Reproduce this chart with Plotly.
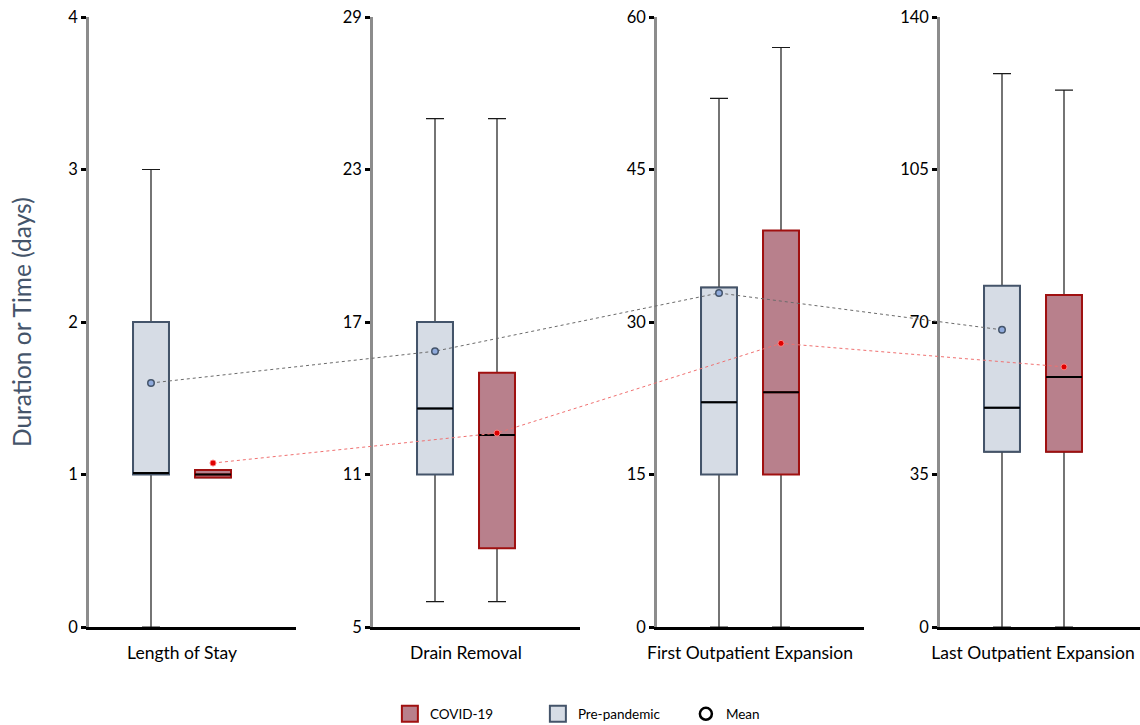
import plotly.graph_objects as go

# ---------------- data ----------------
panels = ["Length of Stay", "Drain Removal", "First Outpatient Expansion", "Last Outpatient Expansion"]
y_ranges = [[0, 4], [5, 29], [0, 60], [0, 140]]
y_ticks = [[0, 1, 2, 3, 4], [5, 11, 17, 23, 29], [0, 15, 30, 45, 60], [0, 35, 70, 105, 140]]

pre_low = [0, 6, 0, 0]
pre_q1 = [1.0, 11.0, 15.0, 40.2]
pre_med = [1.01, 13.6, 22.1, 50.3]
pre_q3 = [2.0, 17.0, 33.4, 78.3]
pre_high = [3.0, 25.0, 52.0, 127.0]
pre_mean = [1.6, 15.85, 32.85, 68.2]

cov_low = [0.98, 6.0, 0, 0]
cov_q1 = [0.98, 8.1, 15.0, 40.2]
cov_med = [1.0, 12.55, 23.1, 57.4]
cov_q3 = [1.03, 15.0, 39.0, 76.2]
cov_high = [1.03, 25.0, 57.0, 123.2]
cov_mean = [1.075, 12.63, 27.9, 59.7]

# ---------------- styling ----------------
W, H = 1140, 725
ML, MR, MT, MB = 89, 0, 17, 98
PW = W - ML - MR
axis_px = [0, 284, 568, 851]
panel_w = 207
unit_px = 62.0
pos_pre, pos_cov = 1, 2
box_w = 0.58

PRE_FILL, PRE_LINE = "#d6dce5", "#44546a"
COV_FILL, COV_LINE = "#b8808c", "#a01010"
FONT = "Lato, Carlito, Calibri, sans-serif"

fig = go.Figure()
layout = dict(
    width=W, height=H,
    margin=dict(l=ML, r=MR, t=MT, b=MB, autoexpand=False),
    plot_bgcolor="rgba(0,0,0,0)", paper_bgcolor="white",
    font=dict(family=FONT, color="black", size=16),
    boxmode="overlay",
    showlegend=True,
)

x_domains = []
x_ranges = []
for i in range(4):
    d0 = axis_px[i] / PW
    d1 = min(1.0, (axis_px[i] + panel_w) / PW)
    x_domains.append((d0, d1))
    xr = [0, (d1 - d0) * PW / unit_px]
    x_ranges.append(xr)
    xa = "xaxis" if i == 0 else f"xaxis{i+1}"
    ya = "yaxis" if i == 0 else f"yaxis{i+1}"
    yid = "y" if i == 0 else f"y{i+1}"
    xid = "x" if i == 0 else f"x{i+1}"
    layout[xa] = dict(domain=[d0, d1], range=xr, anchor=yid, showline=True, linecolor="black",
                      linewidth=3, showgrid=False, zeroline=False, ticks="", automargin=False,
                      tickvals=[(pos_pre + pos_cov) / 2], ticktext=[panels[i]], ticklabelstandoff=8,
                      tickfont=dict(size=17.5, family=FONT, color="black"))
    layout[ya] = dict(domain=[0, 1], range=y_ranges[i], anchor=xid, showline=True,
                      linecolor="#8c8c8c", linewidth=2.5, showgrid=False, zeroline=False,
                      ticks="outside", ticklen=5, tickwidth=3, tickcolor="black", automargin=False,
                      tickvals=y_ticks[i], tickfont=dict(size=16.5, family=FONT, color="black"))
    # twin axis for the inside half of the tick marks
    layout[f"yaxis{i+5}"] = dict(overlaying=yid, range=y_ranges[i], anchor=xid, showline=False,
                                 showgrid=False, zeroline=False, ticks="inside", ticklen=10,
                                 tickwidth=3, tickcolor="black", tickvals=y_ticks[i],
                                 showticklabels=False, automargin=False)

    groups = [
        (pos_pre, pre_low[i], pre_q1[i], pre_med[i], pre_q3[i], pre_high[i], PRE_FILL, PRE_LINE),
        (pos_cov, cov_low[i], cov_q1[i], cov_med[i], cov_q3[i], cov_high[i], COV_FILL, COV_LINE),
    ]
    for (px, lo, q1, md, q3, hi, fill, lc) in groups:
        # whiskers
        fig.add_trace(go.Box(x=[px], q1=[q1], median=[md], q3=[q3], lowerfence=[lo], upperfence=[hi],
                             width=box_w, whiskerwidth=0.5, fillcolor="rgba(0,0,0,0)",
                             line=dict(color="#1a1a1a", width=1.2), xaxis=xid, yaxis=yid,
                             showlegend=False, hoverinfo="skip", boxpoints=False))
        # box body
        fig.add_trace(go.Box(x=[px], q1=[q1], median=[md], q3=[q3], lowerfence=[q1], upperfence=[q3],
                             width=box_w, whiskerwidth=0, fillcolor=fill,
                             line=dict(color=lc, width=2), xaxis=xid, yaxis=yid,
                             showlegend=False, hoverinfo="skip", boxpoints=False))
        # median line
        fig.add_trace(go.Box(x=[px], q1=[md], median=[md], q3=[md], lowerfence=[md], upperfence=[md],
                             width=box_w, whiskerwidth=0, fillcolor="rgba(0,0,0,0)",
                             line=dict(color="black", width=2), xaxis=xid, yaxis=yid,
                             showlegend=False, hoverinfo="skip", boxpoints=False))

# overlay axis for the dotted mean-connecting lines (normalized paper-like coordinates)
layout["xaxis5"] = dict(domain=[0, 1], range=[0, 1], anchor="y9", visible=False)
layout["yaxis9"] = dict(domain=[0, 1], range=[0, 1], anchor="x5", visible=False)


def to_overlay(pos, val, i):
    d0, d1 = x_domains[i]
    xr = x_ranges[i]
    xn = d0 + (pos - xr[0]) / (xr[1] - xr[0]) * (d1 - d0)
    yr = y_ranges[i]
    yn = (val - yr[0]) / (yr[1] - yr[0])
    return xn, yn


pre_pts = [to_overlay(pos_pre, pre_mean[i], i) for i in range(4)]
cov_pts = [to_overlay(pos_cov, cov_mean[i], i) for i in range(4)]

fig.add_trace(go.Scatter(x=[p[0] for p in pre_pts], y=[p[1] for p in pre_pts], mode="lines+markers",
                         line=dict(color="#6b6b6b", width=1, dash="dot"),
                         marker=dict(size=6.5, color="#8faadc", line=dict(color=PRE_LINE, width=1.5)),
                         xaxis="x5", yaxis="y9", showlegend=False, hoverinfo="skip"))
fig.add_trace(go.Scatter(x=[p[0] for p in cov_pts], y=[p[1] for p in cov_pts], mode="lines+markers",
                         line=dict(color="#f07070", width=1, dash="dot"),
                         marker=dict(size=6, color="#e00000", line=dict(color="#ff8080", width=1)),
                         xaxis="x5", yaxis="y9", showlegend=False, hoverinfo="skip"))

# legend entries
fig.add_trace(go.Scatter(x=[None], y=[None], mode="markers", name="COVID-19",
                         marker=dict(symbol="square", size=16, color=COV_FILL, line=dict(color=COV_LINE, width=2)),
                         xaxis="x5", yaxis="y9"))
fig.add_trace(go.Scatter(x=[None], y=[None], mode="markers", name="Pre-pandemic",
                         marker=dict(symbol="square", size=16, color=PRE_FILL, line=dict(color=PRE_LINE, width=2)),
                         xaxis="x5", yaxis="y9"))
fig.add_trace(go.Scatter(x=[None], y=[None], mode="markers", name="Mean",
                         marker=dict(symbol="circle-open", size=12, color="black", line=dict(color="black", width=2.5)),
                         xaxis="x5", yaxis="y9"))

layout["legend"] = dict(orientation="h", xref="container", yref="container", x=0.342, xanchor="left",
                        y=0.0152, yanchor="middle", font=dict(size=13.5, family=FONT, color="black"),
                        entrywidth=103, itemsizing="trace", bgcolor="rgba(0,0,0,0)")

layout["annotations"] = [dict(text="Duration or Time (days)", xref="paper", yref="paper",
                              x=-ML / PW + 21 / PW, y=0.5, xanchor="center", yanchor="middle",
                              textangle=-90, showarrow=False,
                              font=dict(size=24.5, family=FONT, color="#44546a"))]

fig.update_layout(**layout)
fig.write_html("out.html", config={"displayModeBar": False},
               post_script="document.body.style.margin='0';")
